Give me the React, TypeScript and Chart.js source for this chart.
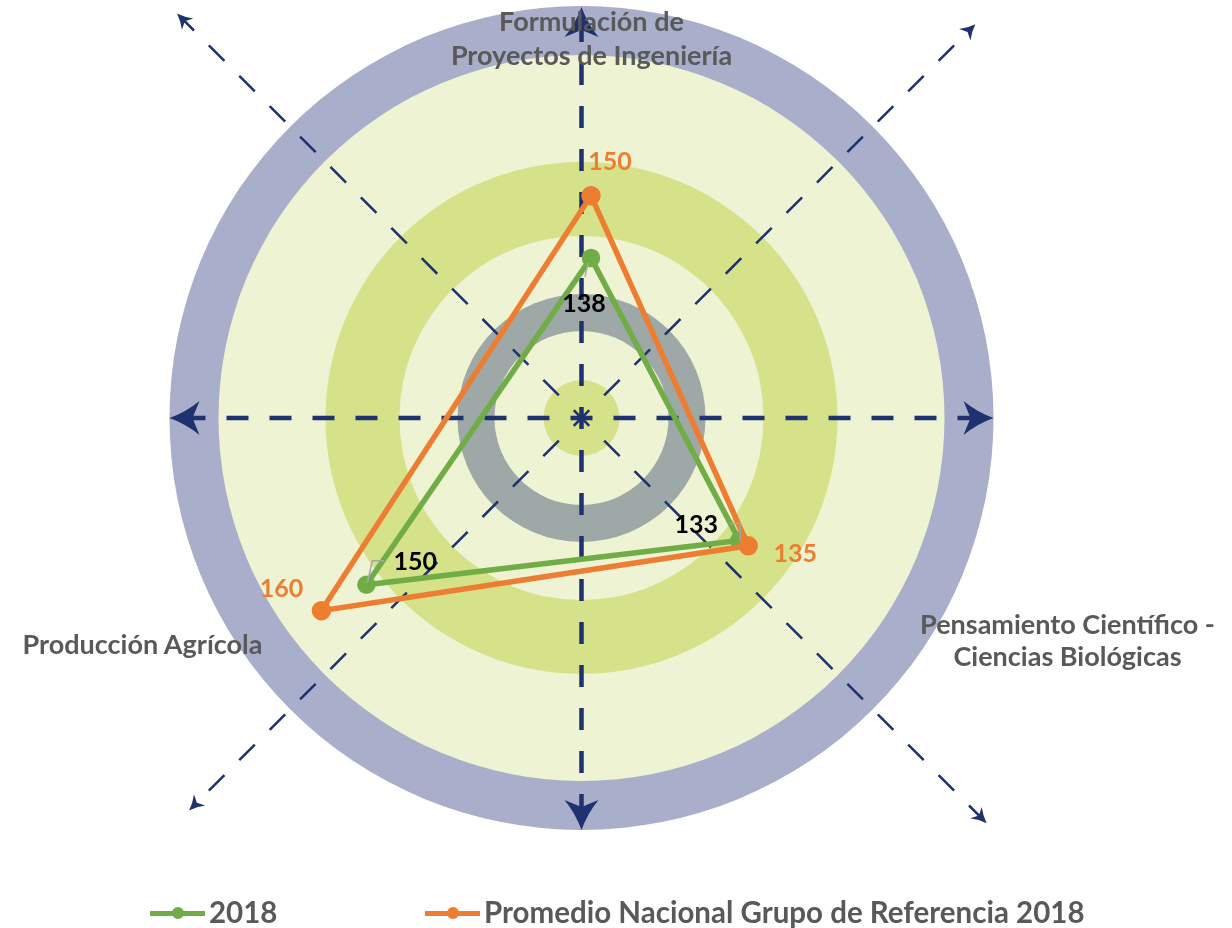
import React, { useEffect, useRef } from "react";
import { Chart, registerables } from "chart.js";

Chart.register(...registerables);

// ---- Data ----
const axisLabelLines: string[][] = [
  ["Formulación de", "Proyectos de Ingeniería"],
  ["Pensamiento Científico -", "Ciencias Biológicas"],
  ["Producción Agrícola"],
];
const series2018: number[] = [138, 133, 150];
const seriesNacional: number[] = [150, 135, 160];
const seriesNames: string[] = ["2018", "Promedio Nacional Grupo de Referencia 2018"];
const scaleMin = 100;
const scaleMax = 180;

// ---- Styles ----
const GREEN = "#70AD47";
const ORANGE = "#ED7D31";
const NAVY = "#1F3270";
const TEXT_GRAY = "#595959";
const FONT = "Lato, 'Open Sans', sans-serif";

// data label offsets (px from the point), per dataset
const labelOffsets2018 = [
  [-7, 46],
  [-43, -16],
  [49, -23],
];
const labelOffsetsNacional = [
  [19, -34],
  [47, 8],
  [-40, -22],
];
// leader lines for the 2018 labels (relative to point)
const leaders2018 = [
  [[-3, 5], [-6, 19]],
  [[1, 0], [1, -17], [-10, -17]],
  [[1, -2], [6, -24], [18, -24]],
];

const bgPlugin = {
  id: "decorBackground",
  beforeDatasetsDraw(chart: any) {
    const ctx: CanvasRenderingContext2D = chart.ctx;
    const cx = 581.5;
    const cy = 418;
    ctx.save();
    const disc = (r: number, color: string) => {
      ctx.beginPath();
      ctx.arc(cx, cy, r, 0, Math.PI * 2);
      ctx.fillStyle = color;
      ctx.fill();
    };
    disc(412, "#A9AFCA");
    disc(363, "#EEF3D3");
    disc(256, "#D6E28A");
    disc(182, "#EEF3D3");
    disc(124, "#9EA8A7");
    disc(87, "#EEF3D3");
    disc(38, "#D6E28A");

    // dashed lines
    const dirs = [
      { a: 0, len: 400, w: 4.5, tip: 412, big: true },
      { a: 90, len: 400, w: 4.5, tip: 412, big: true },
      { a: 180, len: 400, w: 4.5, tip: 412, big: true },
      { a: 270, len: 400, w: 4.5, tip: 411, big: true },
      { a: 225, len: 562, w: 2.5, tip: 572, big: false },
      { a: 315, len: 547, w: 2.5, tip: 557, big: false },
      { a: 135, len: 545, w: 2.5, tip: 555, big: false },
      { a: 45, len: 563, w: 2.5, tip: 573, big: false },
    ];
    ctx.strokeStyle = NAVY;
    ctx.fillStyle = NAVY;
    for (const d of dirs) {
      const rad = (d.a * Math.PI) / 180;
      const ux = Math.cos(rad);
      const uy = Math.sin(rad);
      ctx.beginPath();
      ctx.setLineDash([22, 21]);
      ctx.lineDashOffset = 11;
      ctx.lineWidth = d.w;
      ctx.moveTo(cx, cy);
      ctx.lineTo(cx + ux * d.len, cy + uy * d.len);
      ctx.stroke();
      ctx.setLineDash([]);
      // arrowhead
      const L = d.big ? 30 : 15;
      const hw = d.big ? 17 : 8;
      const notch = d.big ? 7 : 4;
      const px = -uy;
      const py = ux;
      const tx = cx + ux * d.tip;
      const ty = cy + uy * d.tip;
      const bx = cx + ux * (d.tip - L);
      const by = cy + uy * (d.tip - L);
      const nx = cx + ux * (d.tip - L + notch);
      const ny = cy + uy * (d.tip - L + notch);
      ctx.beginPath();
      ctx.moveTo(tx, ty);
      ctx.quadraticCurveTo(
        cx + ux * (d.tip - L * 0.55) + px * hw * 0.35,
        cy + uy * (d.tip - L * 0.55) + py * hw * 0.35,
        bx + px * hw,
        by + py * hw
      );
      ctx.lineTo(nx, ny);
      ctx.lineTo(bx - px * hw, by - py * hw);
      ctx.quadraticCurveTo(
        cx + ux * (d.tip - L * 0.55) - px * hw * 0.35,
        cy + uy * (d.tip - L * 0.55) - py * hw * 0.35,
        tx,
        ty
      );
      ctx.closePath();
      ctx.fill();
    }
    ctx.restore();
  },
};

const labelPlugin = {
  id: "valueLabels",
  afterDatasetsDraw(chart: any) {
    const ctx: CanvasRenderingContext2D = chart.ctx;
    ctx.save();
    // leader lines
    const m0 = chart.getDatasetMeta(0);
    ctx.strokeStyle = "#A6A6A6";
    ctx.lineWidth = 1.5;
    m0.data.forEach((el: any, i: number) => {
      const pts = leaders2018[i];
      ctx.beginPath();
      pts.forEach((p, j) => {
        if (j === 0) ctx.moveTo(el.x + p[0], el.y + p[1]);
        else ctx.lineTo(el.x + p[0], el.y + p[1]);
      });
      ctx.stroke();
    });
    ctx.font = `bold 25px ${FONT}`;
    ctx.textAlign = "center";
    ctx.textBaseline = "middle";
    const sets = [
      { idx: 0, values: series2018, offs: labelOffsets2018, color: "#000000" },
      { idx: 1, values: seriesNacional, offs: labelOffsetsNacional, color: ORANGE },
    ];
    for (const s of sets) {
      const meta = chart.getDatasetMeta(s.idx);
      ctx.fillStyle = s.color;
      meta.data.forEach((el: any, i: number) => {
        ctx.fillText(String(s.values[i]), el.x + s.offs[i][0], el.y + s.offs[i][1]);
      });
    }
    ctx.restore();
  },
};

const axisLabelBoxes = [
  { cx: 591.5, top: 3.5, lh: 34 },
  { cx: 1067.5, top: 607.5, lh: 32 },
  { cx: 142.5, top: 627, lh: 33 },
];

export default function App() {
  const canvasRef = useRef<HTMLCanvasElement | null>(null);

  useEffect(() => {
    const canvas = canvasRef.current;
    if (!canvas) return;
    const chart = new Chart(canvas, {
      type: "radar",
      data: {
        labels: axisLabelLines,
        datasets: [
          {
            label: seriesNames[0],
            data: series2018,
            borderColor: GREEN,
            backgroundColor: GREEN,
            pointBackgroundColor: GREEN,
            pointBorderColor: GREEN,
            borderWidth: 5.5,
            pointRadius: 6.5,
            fill: false,
            order: 1,
          },
          {
            label: seriesNames[1],
            data: seriesNacional,
            borderColor: ORANGE,
            backgroundColor: ORANGE,
            pointBackgroundColor: ORANGE,
            pointBorderColor: ORANGE,
            borderWidth: 5.5,
            pointRadius: 7,
            fill: false,
            order: 0,
          },
        ],
      },
      options: {
        responsive: false,
        animation: false,
        layout: { padding: { left: 0, right: 50, top: 40, bottom: 58 } },
        plugins: { legend: { display: false }, tooltip: { enabled: false } },
        elements: { line: { tension: 0 } },
        scales: {
          r: {
            min: scaleMin,
            max: scaleMax,
            ticks: { display: false },
            grid: { display: false },
            angleLines: { display: false },
            pointLabels: { display: false },
          },
        },
      },
      plugins: [bgPlugin, labelPlugin],
    } as any);
    return () => chart.destroy();
  }, []);

  const labelStyle: React.CSSProperties = {
    position: "absolute",
    width: 500,
    textAlign: "center",
    fontFamily: FONT,
    fontWeight: 700,
    fontSize: 27,
    color: TEXT_GRAY,
    whiteSpace: "nowrap",
  };

  const legendText: React.CSSProperties = {
    position: "absolute",
    top: 896,
    fontFamily: FONT,
    fontWeight: 700,
    fontSize: 29.5,
    lineHeight: "32px",
    color: TEXT_GRAY,
    whiteSpace: "nowrap",
  };

  const marker = (x0: number, color: string) => (
    <>
      <div style={{ position: "absolute", left: x0, top: 910.5, width: 55, height: 5, background: color }} />
      <div
        style={{
          position: "absolute",
          left: x0 + 27.5 - 6,
          top: 913 - 6,
          width: 12,
          height: 12,
          borderRadius: 6,
          background: color,
        }}
      />
    </>
  );

  return (
    <div style={{ position: "absolute", left: 0, top: 0, width: 1232, height: 928, background: "#FFFFFF", overflow: "hidden" }}>
      <canvas ref={canvasRef} width={1232} height={928} style={{ position: "absolute", left: 0, top: 0, display: "block" }} />
      {axisLabelLines.map((lines, i) => (
        <div
          key={i}
          style={{ ...labelStyle, left: axisLabelBoxes[i].cx - 250, top: axisLabelBoxes[i].top, lineHeight: axisLabelBoxes[i].lh + "px" }}
        >
          {lines.map((l, j) => (
            <div key={j}>{l}</div>
          ))}
        </div>
      ))}
      {marker(150, GREEN)}
      <div style={{ ...legendText, left: 209 }}>{seriesNames[0]}</div>
      {marker(425, ORANGE)}
      <div style={{ ...legendText, left: 484 }}>{seriesNames[1]}</div>
    </div>
  );
}
